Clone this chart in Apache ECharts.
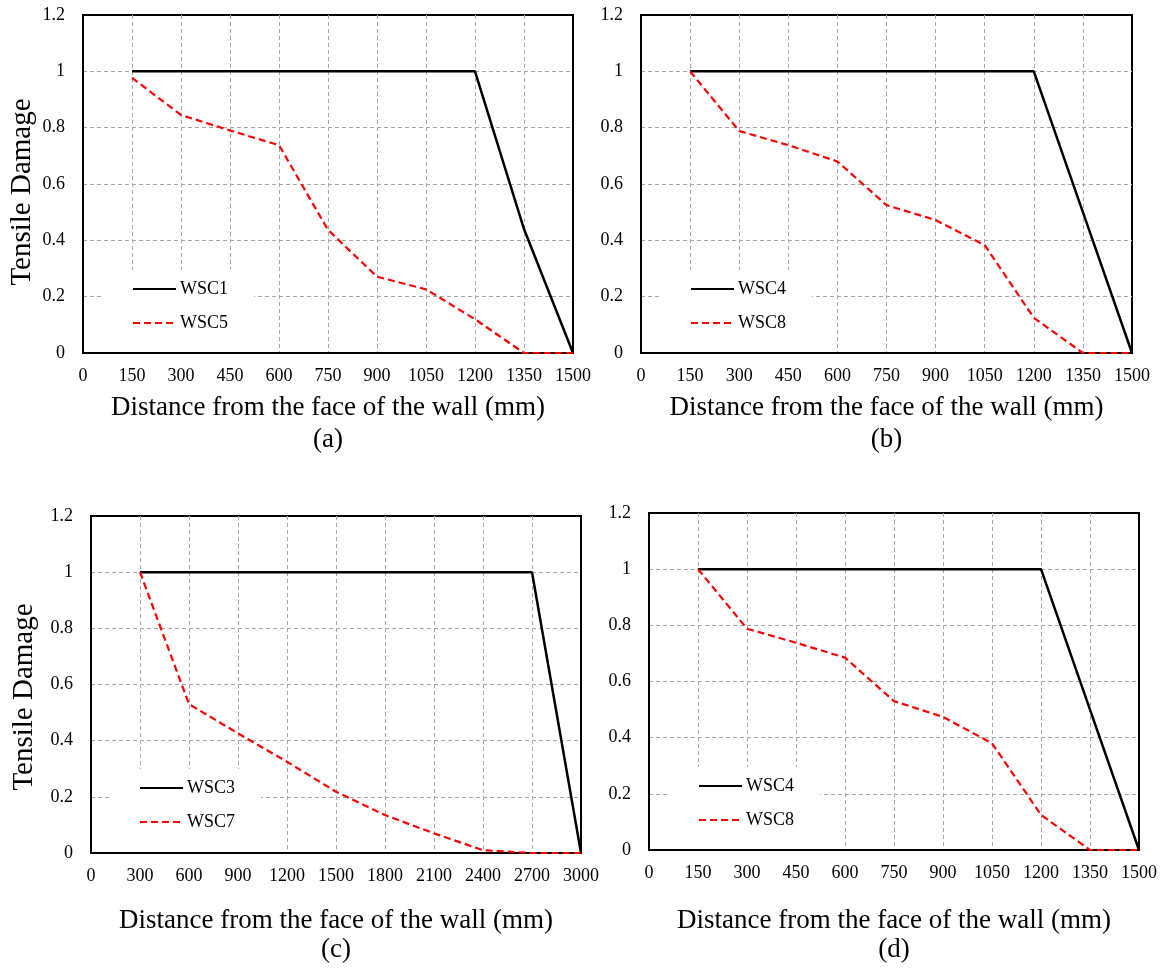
<!DOCTYPE html>
<html>
<head>
<meta charset="utf-8">
<title>Tensile damage vs distance from wall face</title>
<script src="https://cdn.jsdelivr.net/npm/echarts@6/dist/echarts.min.js"></script>
<style>
  html, body { margin: 0; padding: 0; background: #fff; }
  #chart { width: 1163px; height: 974px; }
</style>
</head>
<body>
<div id="chart"></div>
<script>
// Distances from the face of the wall (mm)
const distA = [150, 300, 450, 600, 750, 900, 1050, 1200, 1350, 1500];
const distB = [150, 300, 450, 600, 750, 900, 1050, 1200, 1350, 1500];
const distC = [300, 600, 900, 1200, 1500, 1800, 2100, 2400, 2700, 3000];
const distD = [150, 300, 450, 600, 750, 900, 1050, 1200, 1350, 1500];

// Tensile damage per specimen
const wsc1 = [1, 1, 1, 1, 1, 1, 1, 1, 0.44, 0];
const wsc5 = [0.977, 0.845, 0.79, 0.738, 0.437, 0.271, 0.226, 0.12, 0, 0];
const wsc4 = [1, 1, 1, 1, 1, 1, 1, 1, 0.5, 0];
const wsc8 = [1, 0.788, 0.738, 0.68, 0.525, 0.472, 0.383, 0.125, 0, 0];
const wsc3 = [1, 1, 1, 1, 1, 1, 1, 1, 1, 0];
const wsc7 = [1, 0.53, 0.426, 0.325, 0.218, 0.135, 0.07, 0.01, 0, 0];
const wsc4d = [1, 1, 1, 1, 1, 1, 1, 1, 0.5, 0];
const wsc8d = [1, 0.788, 0.738, 0.685, 0.53, 0.474, 0.38, 0.125, 0, 0];

// Axis ranges and tick steps
const xRangeShort = { min: 0, max: 1500, interval: 150 };
const xRangeLong = { min: 0, max: 3000, interval: 300 };
const yRange = { min: 0, max: 1.2, interval: 0.2 };

const panelLetters = ['(a)', '(b)', '(c)', '(d)'];
const xTitle = 'Distance from the face of the wall (mm)';
const yTitle = 'Tensile Damage';

const FONT = '"Liberation Serif", "Times New Roman", serif';

const panels = [
  { grid: { left: 83, top: 15, width: 490, height: 338 }, range: xRangeShort,
    x: distA, solid: ['WSC1', wsc1], dashed: ['WSC5', wsc5],
    yTitlePos: [22, 192], legend: { left: 104, top: 270 }, xNameGap: 41, letterTop: 426 },
  { grid: { left: 641, top: 15, width: 491, height: 338 }, range: xRangeShort,
    x: distB, solid: ['WSC4', wsc4], dashed: ['WSC8', wsc8],
    yTitlePos: null, legend: { left: 662, top: 270 }, xNameGap: 41, letterTop: 426 },
  { grid: { left: 91, top: 516, width: 490, height: 337 }, range: xRangeLong,
    x: distC, solid: ['WSC3', wsc3], dashed: ['WSC7', wsc7],
    yTitlePos: [24, 697], legend: { left: 111, top: 769 }, xNameGap: 54, letterTop: 936 },
  { grid: { left: 649, top: 513, width: 490, height: 337 }, range: xRangeShort,
    x: distD, solid: ['WSC4 ', wsc4d], dashed: ['WSC8 ', wsc8d],
    yTitlePos: null, legend: { left: 670, top: 767 }, xNameGap: 57, letterTop: 936 }
];

const gridLine = { show: true, showMinLine: false, showMaxLine: false,
  lineStyle: { color: '#a6a6a6', width: 1, type: [4, 3] } };

const grid = [], xAxis = [], yAxis = [], series = [], legend = [], graphic = [];

panels.forEach((p, i) => {
  grid.push(Object.assign({
    show: true, borderColor: '#000', borderWidth: 2, backgroundColor: 'transparent'
  }, p.grid));

  xAxis.push({
    type: 'value', gridIndex: i,
    min: p.range.min, max: p.range.max, interval: p.range.interval,
    name: xTitle, nameLocation: 'middle', nameGap: p.xNameGap,
    nameTextStyle: { fontFamily: FONT, fontSize: 27, color: '#000' },
    axisLine: { show: true, lineStyle: { color: '#000', width: 2 } },
    axisTick: { show: false },
    axisLabel: { fontFamily: FONT, fontSize: 18, color: '#000', margin: 14,
      formatter: v => String(v) },
    splitLine: gridLine
  });

  yAxis.push({
    type: 'value', gridIndex: i,
    min: yRange.min, max: yRange.max, interval: yRange.interval,
    axisLine: { show: true, lineStyle: { color: '#000', width: 2 } },
    axisTick: { show: false },
    axisLabel: {
      fontFamily: FONT, fontSize: 18, color: '#000', margin: 18,
      formatter: v => String(Math.round(v * 10) / 10)
    },
    splitLine: gridLine
  });

  series.push({
    name: p.solid[0], type: 'line', xAxisIndex: i, yAxisIndex: i,
    data: p.x.map((d, k) => [d, p.solid[1][k]]),
    symbol: 'none', z: 3,
    lineStyle: { color: '#000', width: 2.5, type: 'solid' },
    itemStyle: { color: '#000' }
  });
  series.push({
    name: p.dashed[0], type: 'line', xAxisIndex: i, yAxisIndex: i,
    data: p.x.map((d, k) => [d, p.dashed[1][k]]),
    symbol: 'none', z: 4,
    lineStyle: { color: '#ff0000', width: 2.2, type: [7, 4] },
    itemStyle: { color: '#ff0000' }
  });

  legend.push({
    data: [p.solid[0], p.dashed[0]],
    orient: 'vertical',
    left: p.legend.left, top: p.legend.top,
    padding: [10, 26, 20, 28],
    backgroundColor: '#fff',
    itemWidth: 43, itemHeight: 18, itemGap: 16,
    selectedMode: false,
    itemStyle: { opacity: 0 },
    formatter: name => name.trim(),
    textStyle: { fontFamily: FONT, fontSize: 18, color: '#000', padding: [0, 0, 0, -1] },
    z: 5
  });

  if (p.yTitlePos) {
    graphic.push({
      type: 'text',
      x: p.yTitlePos[0], y: p.yTitlePos[1], rotation: Math.PI / 2,
      style: { text: yTitle, font: '29px ' + FONT, fill: '#000',
        align: 'center', verticalAlign: 'middle' }
    });
  }

  graphic.push({
    type: 'text',
    x: p.grid.left + p.grid.width / 2, y: p.letterTop,
    style: { text: panelLetters[i], font: '27px ' + FONT, fill: '#000',
      align: 'center', verticalAlign: 'top' }
  });
});

const chart = echarts.init(document.getElementById('chart'), null, { renderer: 'canvas' });
chart.setOption({
  backgroundColor: '#fff',
  animation: false,
  grid, xAxis, yAxis, series, legend, graphic
});
</script>
</body>
</html>
